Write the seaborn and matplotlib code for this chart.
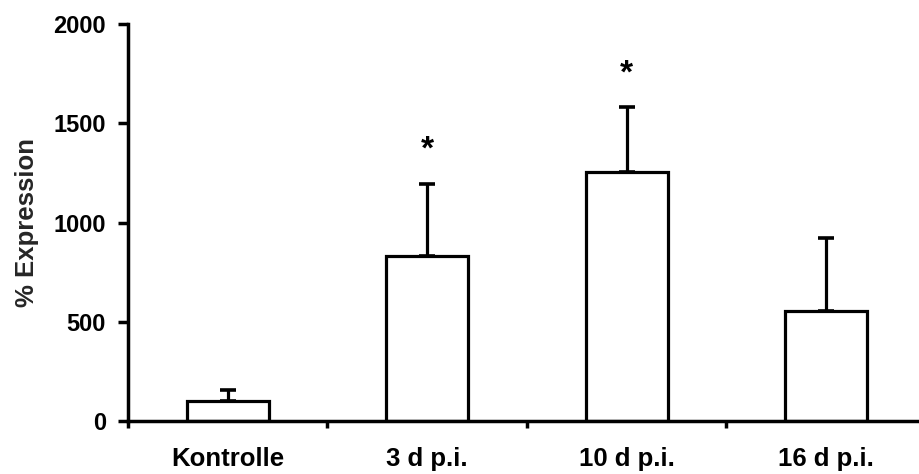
import numpy as np
import pandas as pd
import matplotlib
matplotlib.use("Agg")
import matplotlib.pyplot as plt
from matplotlib.ticker import FixedLocator
import seaborn as sns

# Relative expression per time point (mean and upper SEM)
categories = ["Kontrolle", "3 d p.i.", "10 d p.i.", "16 d p.i."]
means = [100, 830, 1255, 555]
errors = [55, 365, 325, 365]
significant = [False, True, True, False]
y_ticks = [0, 500, 1000, 1500, 2000]

df = pd.DataFrame({"group": categories, "value": means})

sns.set_style("ticks")
plt.rcParams["font.family"] = ["Liberation Sans", "DejaVu Sans"]
plt.rcParams["font.weight"] = "bold"

fig = plt.figure(figsize=(9.2, 4.74), dpi=100)
ax = fig.add_axes([128 / 920, 53 / 474, 792 / 920, 397 / 474])

sns.barplot(data=df, x="group", y="value", color="white", saturation=1,
            edgecolor="black", linewidth=2.3, width=0.41, errorbar=None, ax=ax)

xpos = np.arange(len(categories))
ax.errorbar(xpos, means, yerr=[np.zeros(len(means)), errors], fmt="none",
            ecolor="black", elinewidth=2.3, capsize=6, capthick=2.6, zorder=1)

# significance markers above the error bars
for x, m, e, sig in zip(xpos, means, errors, significant):
    if sig:
        ax.text(x, m + e + 90, "*", ha="center", va="bottom",
                fontsize=24, fontweight="bold", color="black")

ax.set_ylim(0, 2000)
ax.set_xlim(-0.5, -0.5 + 792 / 199.5)
ax.set_yticks(y_ticks)
ax.set_ylabel("% Expression", fontsize=18.5, fontweight="bold", labelpad=10)
ax.set_xlabel("")

for s in ["top", "right"]:
    ax.spines[s].set_visible(False)
for s in ["left", "bottom"]:
    ax.spines[s].set_linewidth(2.5)
    ax.spines[s].set_color("black")

ax.tick_params(axis="y", direction="out", length=7, width=2.5, pad=9,
               labelsize=17, colors="black")
ax.tick_params(axis="x", which="major", length=0, pad=19, labelsize=18.5,
               colors="black")
ax.xaxis.set_minor_locator(FixedLocator(np.arange(-0.5, len(categories), 1.0)))
ax.tick_params(axis="x", which="minor", direction="out", length=5, width=2.5,
               color="black")
for lbl in ax.get_xticklabels() + ax.get_yticklabels():
    lbl.set_fontweight("bold")

fig.savefig("out.png", dpi=100)
